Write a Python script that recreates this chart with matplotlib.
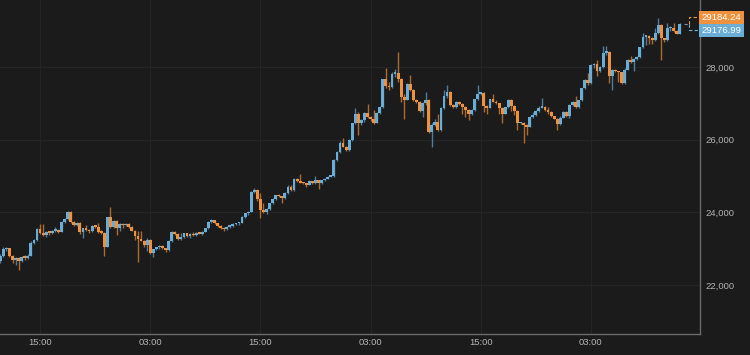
import numpy as np
import pandas as pd
import matplotlib
matplotlib.use('Agg')
import matplotlib.pyplot as plt
import matplotlib.dates as mdates
from matplotlib.ticker import FuncFormatter
from matplotlib.transforms import blended_transform_factory

# 20 minute candles, first one at 10:40
start_time = '2020-12-26 10:40'

opens = [22650, 22800, 22985, 23010, 22790, 22680, 22750, 22660, 22780, 22750,
         22810, 23170, 23230, 23530, 23420, 23370, 23460, 23440, 23490, 23520,
         23470, 23740, 23830, 24010, 23740, 23650, 23720, 23470, 23560, 23520,
         23480, 23620, 23600, 23450, 23440, 23060, 23860, 23600, 23770, 23560,
         23690, 23650, 23680, 23600, 23500, 23350, 23260, 23220, 23100, 23250,
         22880, 22990, 23040, 23080, 23010, 22960, 23200, 23470, 23400, 23280,
         23330, 23420, 23340, 23400, 23370, 23430, 23410, 23470, 23560, 23740,
         23790, 23700, 23620, 23570, 23530, 23600, 23620, 23680, 23700, 23720,
         23880, 23970, 24020, 24570, 24610, 24360, 24060, 24000, 24090, 24250,
         24380, 24470, 24440, 24400, 24540, 24710, 24610, 24920, 24850, 24820,
         24800, 24760, 24860, 24800, 24880, 24800, 24880, 24930, 24980, 25000,
         25440, 25660, 25920, 25810, 25720, 25990, 26450, 26720, 26450, 26540,
         26740, 26630, 26560, 26470, 26740, 26900, 27660, 27480, 27440, 27820,
         27840, 27660, 27180, 27100, 27530, 27370, 27090, 27050, 26790, 27000,
         27090, 26220, 26410, 26500, 26270, 26860, 27200, 27320, 26960, 26900,
         27030, 26980, 26900, 26820, 26700, 26830, 27110, 27260, 27290, 26930,
         26880, 27110, 27050, 27000, 26870, 26720, 26900, 27100, 26920, 26800,
         26460, 26470, 26400, 26360, 26620, 26680, 26790, 26880, 26910, 26810,
         26750, 26640, 26580, 26420, 26610, 26770, 26640, 26950, 27040, 26900,
         27080, 27410, 27640, 27550, 28050, 28080, 27900, 28000, 28390, 28420,
         27740, 27920, 27880, 27850, 27560, 27930, 28200, 28140, 28210, 28280,
         28540, 28830, 28860, 28800, 28740, 28930, 29150, 28790, 28730, 29060,
         29080, 28980, 28920]

highs = [22850, 23050, 23060, 23030, 22820, 22780, 22770, 22800, 22820, 22850,
         23200, 23260, 23560, 23680, 23680, 23480, 23500, 23520, 23600, 23540,
         23760, 23850, 24050, 24030, 23760, 23740, 23740, 23580, 23650, 23540,
         23640, 23660, 23700, 23520, 23460, 23880, 24150, 23800, 23790, 23720,
         23720, 23700, 23700, 23620, 23520, 23500, 23480, 23250, 23290, 23280,
         23000, 23060, 23100, 23100, 23030, 23250, 23480, 23500, 23420, 23420,
         23440, 23440, 23440, 23450, 23460, 23450, 23500, 23580, 23760, 23820,
         23800, 23720, 23640, 23590, 23620, 23640, 23700, 23720, 23740, 23900,
         23990, 24040, 24590, 24680, 24630, 24540, 24250, 24130, 24270, 24400,
         24490, 24510, 24460, 24560, 24740, 24760, 24950, 24950, 25060, 24840,
         24820, 24880, 24870, 25000, 24900, 24900, 24950, 25000, 25020, 25460,
         25700, 25950, 26040, 25830, 26010, 26470, 26860, 26760, 26560, 26770,
         26980, 26650, 26830, 26760, 26930, 27680, 27960, 27600, 27850, 27950,
         28420, 27700, 27260, 27560, 27780, 27400, 27110, 27070, 27030, 27320,
         27110, 26460, 26560, 26710, 26900, 27370, 27500, 27350, 26990, 27060,
         27070, 27000, 26920, 26840, 26850, 27130, 27510, 27310, 27300, 26960,
         27120, 27260, 27080, 27020, 26890, 26910, 27120, 27110, 26950, 26820,
         26500, 26480, 26420, 26640, 26760, 26830, 26920, 27140, 26930, 26900,
         26780, 26660, 26610, 26640, 26790, 26790, 26970, 27060, 27200, 27100,
         27430, 27660, 27830, 28070, 28100, 28190, 28030, 28590, 28590, 28450,
         27940, 27950, 27900, 27870, 27960, 28220, 28300, 28240, 28300, 28560,
         28940, 28880, 28880, 28830, 29060, 29340, 29170, 28810, 29200, 29120,
         29200, 29020, 29220]

lows = [22600, 22780, 22950, 22760, 22600, 22550, 22420, 22640, 22700, 22720,
        22790, 23120, 23200, 23400, 23340, 23330, 23380, 23400, 23460, 23430,
        23450, 23700, 23800, 23720, 23620, 23630, 23400, 23300, 23500, 23440,
        23460, 23560, 23430, 23400, 22800, 23040, 23580, 23560, 23380, 23500,
        23560, 23620, 23560, 23480, 23250, 22640, 23200, 23050, 22950, 22850,
        22760, 22960, 23000, 22990, 22920, 22940, 23180, 23380, 23230, 23230,
        23300, 23320, 23300, 23350, 23340, 23400, 23380, 23450, 23540, 23700,
        23680, 23600, 23540, 23500, 23510, 23560, 23600, 23640, 23660, 23700,
        23850, 23940, 24000, 24520, 24320, 23840, 23980, 23960, 24060, 24220,
        24350, 24420, 24250, 24380, 24510, 24580, 24590, 24830, 24800, 24780,
        24690, 24740, 24780, 24780, 24630, 24780, 24860, 24910, 24960, 24980,
        25400, 25640, 25800, 25690, 25700, 25960, 26420, 26130, 26400, 26500,
        26610, 26520, 26440, 26450, 26720, 26880, 27420, 27360, 27420, 27730,
        27600, 27050, 26560, 27080, 27330, 27060, 27020, 26760, 26630, 26960,
        26180, 25810, 26380, 26240, 26250, 26840, 27150, 26920, 26860, 26880,
        26950, 26720, 26630, 26540, 26680, 26800, 27080, 27230, 26770, 26720,
        26860, 27030, 26980, 26720, 26450, 26700, 26880, 26780, 26680, 26260,
        26420, 25900, 26130, 26340, 26600, 26660, 26770, 26860, 26780, 26700,
        26620, 26560, 26260, 26400, 26590, 26620, 26610, 26920, 26880, 26880,
        27060, 27390, 27500, 27530, 27980, 27740, 27860, 27980, 28340, 27560,
        27370, 27860, 27590, 27530, 27540, 27910, 28100, 27900, 28180, 28260,
        28510, 28600, 28620, 28640, 28720, 28900, 28190, 28700, 28710, 28990,
        28960, 28900, 28900]

closes = [22800, 22985, 23010, 22790, 22680, 22750, 22660, 22780, 22750, 22810,
          23170, 23230, 23530, 23420, 23370, 23460, 23440, 23490, 23520, 23470,
          23740, 23830, 24010, 23740, 23650, 23720, 23470, 23560, 23520, 23480,
          23620, 23600, 23450, 23440, 23060, 23860, 23600, 23770, 23560, 23690,
          23650, 23680, 23600, 23500, 23350, 23260, 23220, 23100, 23250, 22880,
          22990, 23040, 23080, 23010, 22960, 23200, 23470, 23400, 23280, 23330,
          23420, 23340, 23400, 23370, 23430, 23410, 23470, 23560, 23740, 23790,
          23700, 23620, 23570, 23530, 23600, 23620, 23680, 23700, 23720, 23880,
          23970, 24020, 24570, 24610, 24360, 24060, 24000, 24090, 24250, 24380,
          24470, 24440, 24400, 24540, 24710, 24610, 24920, 24850, 24820, 24800,
          24760, 24860, 24800, 24880, 24800, 24880, 24930, 24980, 25000, 25440,
          25660, 25920, 25810, 25720, 25990, 26450, 26720, 26450, 26540, 26740,
          26630, 26560, 26470, 26740, 26900, 27660, 27480, 27440, 27820, 27840,
          27660, 27180, 27100, 27530, 27370, 27090, 27050, 26790, 27000, 27090,
          26220, 26410, 26500, 26270, 26860, 27200, 27320, 26960, 26900, 27030,
          26980, 26900, 26820, 26700, 26830, 27110, 27260, 27290, 26930, 26880,
          27110, 27050, 27000, 26870, 26720, 26900, 27100, 26920, 26800, 26460,
          26470, 26400, 26360, 26620, 26680, 26790, 26880, 26910, 26810, 26750,
          26640, 26580, 26420, 26610, 26770, 26640, 26950, 27040, 26900, 27080,
          27410, 27640, 27550, 28050, 28080, 27900, 28000, 28390, 28420, 27740,
          27920, 27880, 27850, 27560, 27930, 28200, 28140, 28210, 28280, 28540,
          28830, 28860, 28800, 28740, 28930, 29150, 28790, 28730, 29060, 29080,
          28980, 28920, 29184]

ask_price = 29184.24
bid_price = 29176.99
y_ticks = [22000, 24000, 26000, 28000]

bg = '#1b1b1b'
blue = '#6aaed8'
orange = '#f0923d'
blue_wick = '#4e7d9c'
orange_wick = '#ad6a2f'
text_col = '#b4b4b4'

plt.rcParams['font.family'] = ['Liberation Sans', 'DejaVu Sans']

fig = plt.figure(figsize=(7.5, 3.55), dpi=100, facecolor=bg)
ax = fig.add_axes([0, 21 / 355, 700 / 750, 334 / 355])
ax.set_facecolor(bg)

times = pd.date_range(start_time, periods=len(closes), freq='20min')
x = mdates.date2num(times)
o = np.array(opens, dtype=float)
h = np.array(highs, dtype=float)
l = np.array(lows, dtype=float)
c = np.array(closes, dtype=float)
rise = c >= o

bottom = np.minimum(o, c)
height = np.maximum(np.abs(c - o), 40)
w = 0.92 / 72

ax.vlines(x[rise], l[rise], h[rise], color=blue_wick, lw=1, zorder=2)
ax.vlines(x[~rise], l[~rise], h[~rise], color=orange_wick, lw=1, zorder=2)
ax.bar(x[rise], height[rise], bottom=bottom[rise], width=w, color=blue, lw=0, zorder=3)
ax.bar(x[~rise], height[~rise], bottom=bottom[~rise], width=w, color=orange, lw=0, zorder=3)

ax.set_xlim(mdates.date2num(pd.Timestamp('2020-12-26 10:38')),
            mdates.date2num(pd.Timestamp('2020-12-29 14:53')))
ymin, ymax = 20652, 29844
ax.set_ylim(ymin, ymax)

ax.xaxis.set_major_locator(mdates.HourLocator(byhour=[3, 15]))
ax.xaxis.set_major_formatter(mdates.DateFormatter('%H:%M'))
ax.set_yticks(y_ticks)
ax.yaxis.set_major_formatter(FuncFormatter(lambda v, p: f'{int(v):,}'))
ax.yaxis.tick_right()
ax.tick_params(axis='both', length=0, colors=text_col, labelsize=6.8)
ax.tick_params(axis='y', pad=4)
ax.tick_params(axis='x', pad=3)
ax.grid(True, color='#242424', lw=0.8, zorder=0)
ax.set_axisbelow(True)

for side in ['top', 'left']:
    ax.spines[side].set_visible(False)
for side in ['right', 'bottom']:
    ax.spines[side].set_color('#6a6a6a')
    ax.spines[side].set_linewidth(1)

# price labels on the right edge
tr = blended_transform_factory(ax.transAxes, ax.transData)
last = c[-1]
dy = (ymax - ymin) / 334 * 6.5
dash = (0, (3, 2))
ax.plot([0.977, 0.984], [last, last], transform=tr, color='#8a8a8a', lw=0.8,
        ls=dash, clip_on=False)
ax.plot([0.984, 0.984, 1.0], [last, last + dy, last + dy], transform=tr,
        color=orange, lw=0.8, ls=dash, clip_on=False)
ax.plot([0.984, 0.984, 1.0], [last, last - dy, last - dy], transform=tr,
        color=blue, lw=0.8, ls=dash, clip_on=False)

ax.text(1.002, last + dy, f'{ask_price:.2f}', transform=tr, ha='left', va='center',
        color='white', fontsize=6.8, clip_on=False, zorder=5,
        bbox=dict(boxstyle='square,pad=0.25', fc=orange, ec='none'))
ax.text(1.002, last - dy, f'{bid_price:.2f}', transform=tr, ha='left', va='center',
        color='white', fontsize=6.8, clip_on=False, zorder=5,
        bbox=dict(boxstyle='square,pad=0.25', fc=blue, ec='none'))

fig.savefig('out.png', dpi=100, facecolor=bg)
